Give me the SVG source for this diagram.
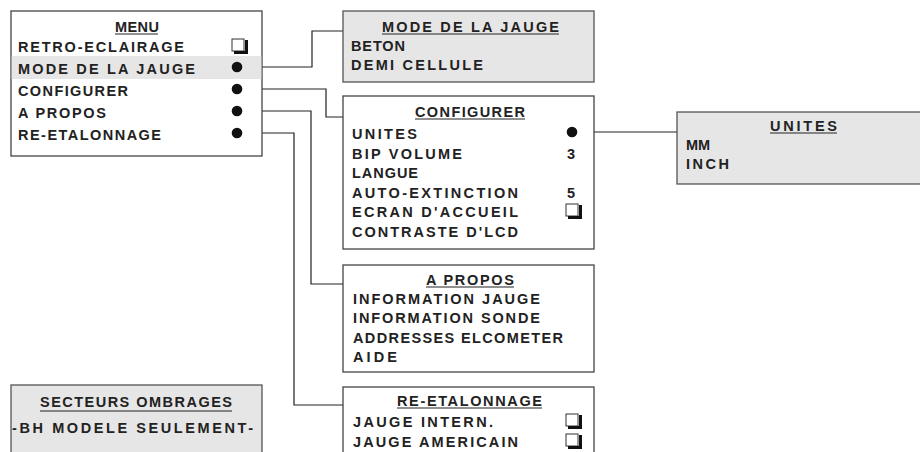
<svg xmlns="http://www.w3.org/2000/svg" width="920" height="452" viewBox="0 0 920 452">
<style>
.box{fill:#ffffff;stroke:#444;stroke-width:1.3}
.gbox{fill:#e6e6e6;stroke:#555;stroke-width:1.3}
text{font-family:"Liberation Sans",Arial,sans-serif;font-size:14.5px;font-weight:bold;fill:#222}
.ul{stroke:#222;stroke-width:1.2}
.conn{fill:none;stroke:#222;stroke-width:1.2}
.dot{fill:#111}
.cb{fill:#fff;stroke:#333;stroke-width:1}
.cbs{fill:none;stroke:#111;stroke-width:3}
</style>
<rect width="920" height="452" fill="#fff"/>
<g id="connectors">
<polyline class="conn" points="237,67 312,67 312,31 343,31"/>
<polyline class="conn" points="237,89 326,89 326,117 343,117"/>
<polyline class="conn" points="237,111 311,111 311,284 343,284"/>
<polyline class="conn" points="237,133 294,133 294,405 343,405"/>
<polyline class="conn" points="572,132 677,132"/>
</g>
<g id="menu">
<rect class="box" x="11" y="11" width="251" height="145"/>
<rect x="11.7" y="56" width="249.6" height="23" fill="#e6e6e6"/>
<text x="115" y="32" textLength="44" lengthAdjust="spacing">MENU</text>
<line class="ul" x1="115" y1="34" x2="158" y2="34"/>
<text x="18" y="52" textLength="166" lengthAdjust="spacing">RETRO-ECLAIRAGE</text>
<text x="18" y="74" textLength="177" lengthAdjust="spacing">MODE DE LA JAUGE</text>
<text x="18" y="95.5" textLength="110" lengthAdjust="spacing">CONFIGURER</text>
<text x="18" y="117.5" textLength="88" lengthAdjust="spacing">A PROPOS</text>
<text x="18" y="140" textLength="143" lengthAdjust="spacing">RE-ETALONNAGE</text>
<rect class="cb" x="232" y="39" width="12" height="12"/>
<polyline class="cbs" points="234,52.5 246.5,52.5 246.5,40"/>
<circle class="dot" cx="237" cy="67" r="5.3"/>
<circle class="dot" cx="237" cy="89" r="5.3"/>
<circle class="dot" cx="237" cy="111" r="5.3"/>
<circle class="dot" cx="237" cy="133" r="5.3"/>
</g>
<g id="mode">
<rect class="gbox" x="343" y="11" width="251" height="71"/>
<text x="382" y="32" textLength="177" lengthAdjust="spacing">MODE DE LA JAUGE</text>
<line class="ul" x1="382" y1="34" x2="559" y2="34"/>
<text x="351" y="51" textLength="54" lengthAdjust="spacing">BETON</text>
<text x="351" y="70" textLength="132" lengthAdjust="spacing">DEMI CELLULE</text>
</g>
<g id="configurer">
<rect class="box" x="343" y="96" width="251" height="153"/>
<text x="415" y="117" textLength="110" lengthAdjust="spacing">CONFIGURER</text>
<line class="ul" x1="415" y1="119" x2="525" y2="119"/>
<text x="352" y="139" textLength="65" lengthAdjust="spacing">UNITES</text>
<text x="352" y="159" textLength="110" lengthAdjust="spacing">BIP VOLUME</text>
<text x="352" y="178" textLength="66" lengthAdjust="spacing">LANGUE</text>
<text x="352" y="197.5" textLength="166" lengthAdjust="spacing">AUTO-EXTINCTION</text>
<text x="352" y="217" textLength="166" lengthAdjust="spacing">ECRAN D'ACCUEIL</text>
<text x="352" y="237" textLength="166" lengthAdjust="spacing">CONTRASTE D'LCD</text>
<text x="567" y="159">3</text>
<text x="567" y="197.5">5</text>
<circle class="dot" cx="572" cy="132" r="5.3"/>
<rect class="cb" x="566" y="204" width="12" height="12"/>
<polyline class="cbs" points="568,217.5 580.5,217.5 580.5,205"/>
</g>
<g id="unites">
<rect class="gbox" x="677" y="112" width="260" height="72"/>
<text x="770" y="131" textLength="67" lengthAdjust="spacing">UNITES</text>
<line class="ul" x1="770" y1="133" x2="837" y2="133"/>
<text x="686" y="150" textLength="24" lengthAdjust="spacing">MM</text>
<text x="686" y="169" textLength="43" lengthAdjust="spacing">INCH</text>
</g>
<g id="apropos">
<rect class="box" x="343" y="265" width="251" height="107"/>
<text x="426" y="285" textLength="88" lengthAdjust="spacing">A PROPOS</text>
<line class="ul" x1="426" y1="287" x2="514" y2="287"/>
<text x="353" y="303.5" textLength="187" lengthAdjust="spacing">INFORMATION JAUGE</text>
<text x="353" y="323" textLength="187" lengthAdjust="spacing">INFORMATION SONDE</text>
<text x="353" y="342.5" textLength="210" lengthAdjust="spacing">ADDRESSES ELCOMETER</text>
<text x="353" y="362" textLength="44" lengthAdjust="spacing">AIDE</text>
</g>
<g id="reetalonnage">
<rect class="box" x="343" y="387" width="251" height="80"/>
<text x="397" y="406" textLength="145" lengthAdjust="spacing">RE-ETALONNAGE</text>
<line class="ul" x1="397" y1="408" x2="542" y2="408"/>
<text x="353" y="427" textLength="140" lengthAdjust="spacing">JAUGE INTERN.</text>
<text x="353" y="447" textLength="165" lengthAdjust="spacing">JAUGE AMERICAIN</text>
<rect class="cb" x="566" y="414" width="12" height="12"/>
<polyline class="cbs" points="568,427.5 580.5,427.5 580.5,415"/>
<rect class="cb" x="566" y="434" width="12" height="12"/>
<polyline class="cbs" points="568,447.5 580.5,447.5 580.5,435"/>
</g>
<g id="secteurs">
<rect class="gbox" x="11" y="385" width="251" height="80"/>
<text x="40" y="407" textLength="192" lengthAdjust="spacing">SECTEURS OMBRAGES</text>
<line class="ul" x1="40" y1="411" x2="232" y2="411"/>
<text x="12" y="433" textLength="241" lengthAdjust="spacing">-BH MODELE SEULEMENT-</text>
</g>
</svg>
